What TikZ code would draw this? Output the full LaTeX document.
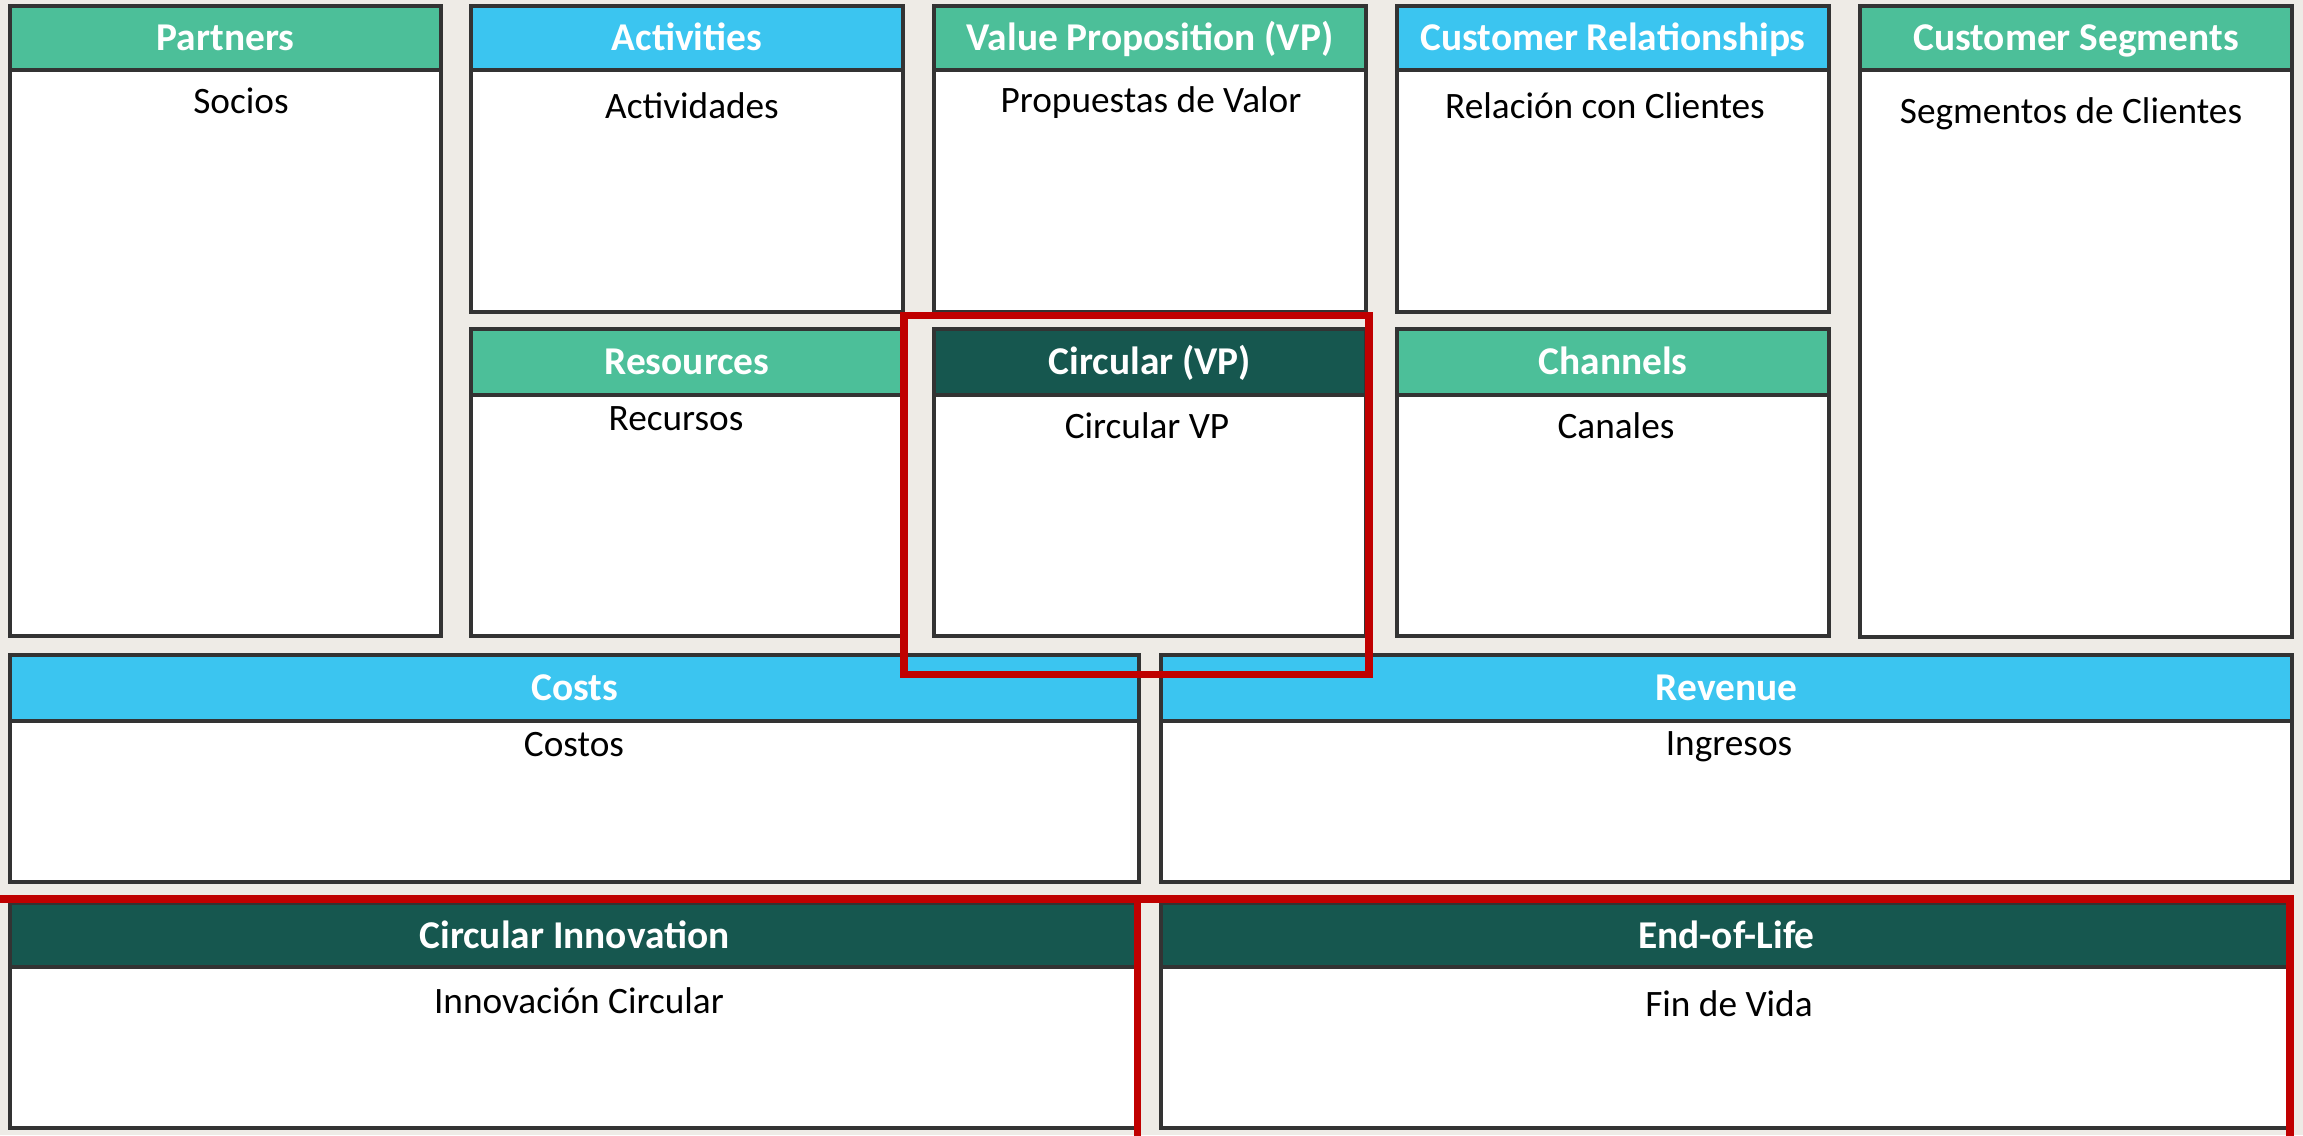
\documentclass[tikz,border=0pt]{standalone}
\usepackage{fontspec}
\setmainfont{Carlito}

\definecolor{paper}{HTML}{EEEBE6}
\definecolor{headgreen}{HTML}{4CBF99}
\definecolor{headblue}{HTML}{3BC5F0}
\definecolor{headdark}{HTML}{16574F}
\definecolor{markred}{HTML}{C00000}
\definecolor{edgegray}{HTML}{333333}

\tikzset{
    cell/.style={draw=edgegray, line width=0.9pt, fill=white},
    cellhead/.style={draw=edgegray, line width=0.9pt},
    headtext/.style={anchor=base, text=white, inner sep=0pt, font=\fontsize{11.2}{13}\selectfont\bfseries},
    bodytext/.style={anchor=base, text=black, inner sep=0pt, font=\fontsize{10.6}{12}\selectfont},
    redframe/.style={draw=markred, line width=2.2pt, line join=miter}
}

\begin{document}
\begin{tikzpicture}[x=0.01cm, y=-0.01cm]
    \useasboundingbox (0, 0) rectangle (2303, 1135);
    \fill[paper] (0, 0) rectangle (2303, 1135);

    % top row
    \draw[cell] (10, 6) rectangle (441, 636);
        \draw[cellhead, fill=headgreen] (10, 6) rectangle (441, 70);
        \node[headtext] (partners) at (225.5, 50.5) {Partners};
        \node[bodytext] (socios) at (241, 113) {Socios};
    \draw[cell] (471, 6) rectangle (903, 312);
        \draw[cellhead, fill=headblue] (471, 6) rectangle (903, 70);
        \node[headtext] (activities) at (687, 50.5) {Activities};
        \node[bodytext] (actividades) at (692, 118) {Actividades};
    \draw[cell] (934, 6) rectangle (1366, 312);
        \draw[cellhead, fill=headgreen] (934, 6) rectangle (1366, 70);
        \node[headtext] (valueprop) at (1150, 50.5) {Value Proposition (VP)};
        \node[bodytext] (propuestas) at (1151, 112) {Propuestas de Valor};
    \draw[cell] (1397, 6) rectangle (1829, 312);
        \draw[cellhead, fill=headblue] (1397, 6) rectangle (1829, 70);
        \node[headtext] (custrel) at (1613, 50.5) {Customer Relationships};
        \node[bodytext] (relacion) at (1605, 118) {Relación con Clientes};
    \draw[cell] (1860, 6) rectangle (2292, 637);
        \draw[cellhead, fill=headgreen] (1860, 6) rectangle (2292, 70);
        \node[headtext] (custseg) at (2076, 50.5) {Customer Segments};
        \node[bodytext] (segmentos) at (2071, 123) {Segmentos de Clientes};

    % middle row
    \draw[cell] (471, 329) rectangle (903, 636);
        \draw[cellhead, fill=headgreen] (471, 329) rectangle (903, 395);
        \node[headtext] (resources) at (687, 374.5) {Resources};
        \node[bodytext] (recursos) at (676, 430) {Recursos};
    \draw[cell] (934, 329) rectangle (1366, 636);
        \draw[cellhead, fill=headdark] (934, 329) rectangle (1366, 395);
        \node[headtext] (circvp) at (1150, 374.5) {Circular (VP)};
        \node[bodytext] (circularvp) at (1147, 438) {Circular VP};
    \draw[cell] (1397, 329) rectangle (1829, 636);
        \draw[cellhead, fill=headgreen] (1397, 329) rectangle (1829, 395);
        \node[headtext] (channels) at (1613, 374.5) {Channels};
        \node[bodytext] (canales) at (1616, 438) {Canales};

    % costs and revenue
    \draw[cell] (10, 655) rectangle (1139, 882);
        \draw[cellhead, fill=headblue] (10, 655) rectangle (1139, 721);
        \node[headtext] (costs) at (574.5, 700.5) {Costs};
        \node[bodytext] (costos) at (574, 756) {Costos};
    \draw[cell] (1161, 655) rectangle (2292, 882);
        \draw[cellhead, fill=headblue] (1161, 655) rectangle (2292, 721);
        \node[headtext] (revenue) at (1726.5, 700.5) {Revenue};
        \node[bodytext] (ingresos) at (1729, 755) {Ingresos};

    % circular extension
    \draw[cell] (10, 903) rectangle (1139, 1128);
        \draw[cellhead, fill=headdark] (10, 903) rectangle (1139, 967);
        \node[headtext] (circinno) at (574.5, 948) {Circular Innovation};
        \node[bodytext] (innovacion) at (579, 1013) {Innovación Circular};
    \draw[cell] (1161, 903) rectangle (2292, 1128);
        \draw[cellhead, fill=headdark] (1161, 903) rectangle (2292, 967);
        \node[headtext] (endoflife) at (1726.5, 948) {End-of-Life};
        \node[bodytext] (findevida) at (1729, 1016) {Fin de Vida};

    % red highlights
    \draw[redframe] (904, 315.5) rectangle (1369, 674.5);
    \draw[redframe] (0, 899) -- (2290, 899) -- (2290, 1145);
    \draw[redframe] (1137.5, 899) -- (1137.5, 1145);
\end{tikzpicture}
\end{document}
